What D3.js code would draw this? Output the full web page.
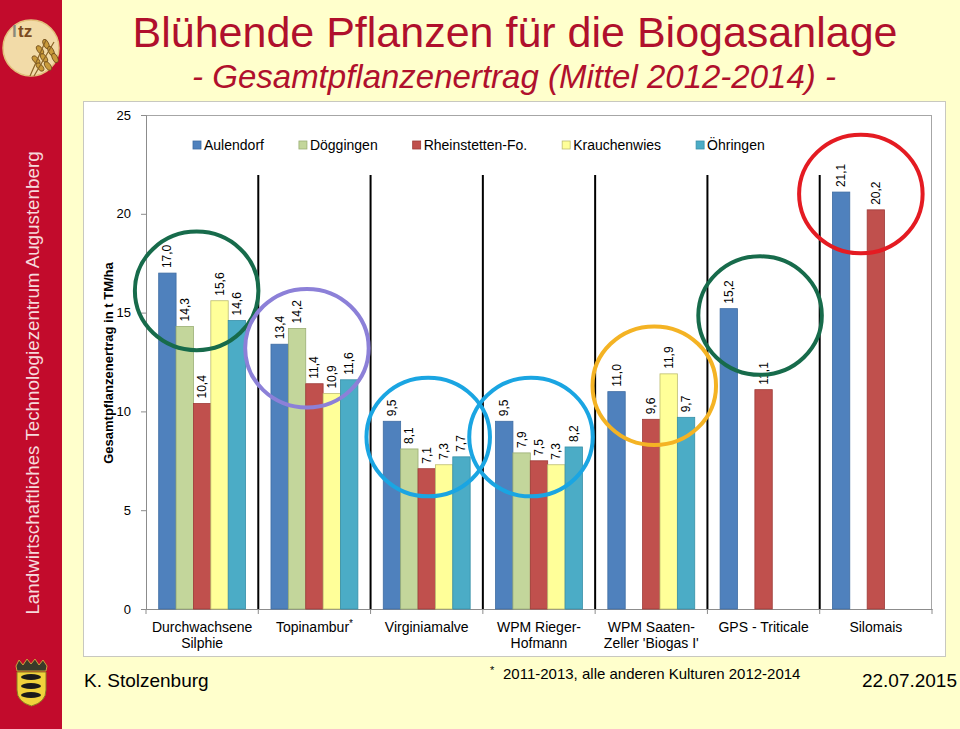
<!DOCTYPE html>
<html><head><meta charset="utf-8">
<script src="https://cdn.jsdelivr.net/npm/d3@7"></script>
<style>
html,body{margin:0;padding:0;background:#FFFFCC;}
svg{display:block;font-family:"Liberation Sans",Arial,sans-serif;}
</style>
</head><body>
<svg id="c" width="960" height="729"></svg>
<script>
// ---------- DATA ----------
const categories = ["Durchwachsene Silphie","Topinambur*","Virginiamalve","WPM Rieger-Hofmann","WPM Saaten-Zeller 'Biogas I'","GPS - Triticale","Silomais"];
const categoryLines = [["Durchwachsene","Silphie"],["Topinambur"],["Virginiamalve"],["WPM Rieger-","Hofmann"],["WPM Saaten-","Zeller 'Biogas I'"],["GPS - Triticale"],["Silomais"]];
const seriesNames = ["Aulendorf","Döggingen","Rheinstetten-Fo.","Krauchenwies","Öhringen"];
const aulendorf    = [17.0, 13.4, 9.5, 9.5, 11.0, 15.2, 21.1];
const doeggingen   = [14.3, 14.2, 8.1, 7.9, null, null, null];
const rheinstetten = [10.4, 11.4, 7.1, 7.5, 9.6, 11.1, 20.2];
const krauchenwies = [15.6, 10.9, 7.3, 7.3, 11.9, null, null];
const oehringen    = [14.6, 11.6, 7.7, 8.2, 9.7, null, null];
const yTicks = [0, 5, 10, 15, 20, 25];
// highlight rings: category index and centre value
const highlightCats = [0, 1, 2, 3, 4, 5, 6];
const highlightValues = [16.1, 13.2, 8.7, 8.7, 11.3, 14.85, 21.0];

// ---------- STYLE / LAYOUT ----------
const seriesColors = ["#4F81BD","#C3D69B","#C0504D","#FFFF99","#4BACC6"];
const seriesStroke = ["#3F6DA3","#9BAE75","#9E3B38","#BDBD70","#3790A8"];
const ringColors = ["#176B4B","#8C80D8","#1AA5E2","#1AA5E2","#F4B324","#176B4B","#E41B22"];
const ringDx = [-5.5, -7.5, 1.5, -8, 3, -3.5, -15];
const red = "#C20B2C", titleRed = "#B0102C";

const seriesValues = [aulendorf, doeggingen, rheinstetten, krauchenwies, oehringen];
const svg = d3.select("#c");

// background
svg.append("rect").attr("width",960).attr("height",729).attr("fill","#FFFFCC");
svg.append("rect").attr("width",62).attr("height",729).attr("fill",red);

// sidebar text
svg.append("text").attr("transform","translate(32,383) rotate(-90)")
  .attr("text-anchor","middle").attr("dominant-baseline","central")
  .attr("font-size",18.8).attr("fill","#F6DADC")
  .text("Landwirtschaftliches Technologiezentrum Augustenberg");

// logo (top-left)
const logo = svg.append("g");
logo.append("circle").attr("cx",31).attr("cy",48).attr("r",28).attr("fill","#F2DBA8").attr("stroke","#E2C07C").attr("stroke-width",1.5);
logo.append("text").attr("x",12).attr("y",37).attr("font-size",17).attr("font-weight","bold").attr("fill","#8A8A7A").text("l");
logo.append("text").attr("x",18).attr("y",37).attr("font-size",17).attr("font-weight","bold").attr("fill","#7A4A20").text("tz");
[[40,50,-35],[44,58,-35],[48,66,-35],[46,44,-25],[51,51,-25],[55,58,-25],[36,60,-40],[40,67,-40]].forEach(d=>{
  logo.append("ellipse").attr("cx",d[0]).attr("cy",d[1]).attr("rx",2.6).attr("ry",5)
    .attr("transform",`rotate(${d[2]},${d[0]},${d[1]})`).attr("fill","#C89A3A").attr("stroke","#6E4A18").attr("stroke-width",0.8);
});
logo.append("path").attr("d","M30,76 L46,40 M34,76 L54,42").attr("stroke","#8A6428").attr("stroke-width",1.2).attr("fill","none");

// crest (bottom-left)
const crest = svg.append("g");
crest.append("path").attr("d","M16,666 L19,660 L23,665 L27,659 L31,664 L35,659 L39,665 L43,660 L47,666 L46,671 L17,671 Z").attr("fill","#3A3A2A").attr("stroke","#C9A33A").attr("stroke-width",1);
crest.append("path").attr("d","M17,672 L46,672 L46,690 Q46,702 31.5,706 Q17,702 17,690 Z").attr("fill","#F0D23C").attr("stroke","#8A7A20").attr("stroke-width",1);
[[31,677],[31,686],[31,695]].forEach(d=>{
  crest.append("ellipse").attr("cx",d[0]).attr("cy",d[1]).attr("rx",10).attr("ry",3).attr("fill","#1A1A1A");
});

// titles
svg.append("text").attr("x",515).attr("y",47).attr("text-anchor","middle").attr("font-size",43).attr("fill",titleRed)
  .text("Blühende Pflanzen für die Biogasanlage");
svg.append("text").attr("x",514).attr("y",88).attr("text-anchor","middle").attr("font-size",33).attr("font-style","italic").attr("fill",titleRed)
  .text("- Gesamtpflanzenertrag (Mittel 2012-2014) -");

// chart frame
svg.append("rect").attr("x",83.5).attr("y",101.5).attr("width",862).attr("height",555).attr("fill","#FFFFFF").attr("stroke","#C8C8C0").attr("stroke-width",1);

// scales
const plotL = 146, plotR = 932, plotT = 115, plotB = 609;
const x0 = d3.scaleBand().domain(categories).range([plotL, plotR]).padding(0);
const x1 = d3.scaleBand().domain(seriesNames).range([0, x0.bandwidth()]).paddingInner(0).paddingOuter(0.73);
const y = d3.scaleLinear().domain([0, 25]).range([plotB, plotT]);

// plot area border
svg.append("rect").attr("x",plotL+0.5).attr("y",plotT+0.5).attr("width",plotR-plotL-1).attr("height",plotB-plotT)
  .attr("fill","none").attr("stroke","#A6A6A6").attr("stroke-width",1);

// y axis
const yAxis = svg.append("g").attr("transform",`translate(${plotL},0)`)
  .call(d3.axisLeft(y).tickValues(yTicks).tickSize(5).tickPadding(10).tickFormat(d3.format("d")));
yAxis.select(".domain").attr("stroke","#8C8C8C");
yAxis.selectAll(".tick line").attr("stroke","#8C8C8C");
yAxis.selectAll(".tick text").attr("font-size",13).attr("font-family","Liberation Sans, Arial, sans-serif").attr("fill","#000");

// x axis
const xAxis = svg.append("g").attr("transform",`translate(0,${plotB})`)
  .call(d3.axisBottom(x0).tickSize(0).tickFormat(""));
xAxis.select(".domain").attr("stroke","#8C8C8C");
const boundaries = categories.map(c => x0(c)).concat([plotR]);
svg.append("g").selectAll("line").data(boundaries).join("line")
  .attr("x1",d=>d).attr("x2",d=>d).attr("y1",plotB).attr("y2",plotB+5).attr("stroke","#8C8C8C");

// category labels
const catG = svg.append("g").attr("font-size",14).attr("fill","#000").attr("text-anchor","middle");
categoryLines.forEach((lines,i) => {
  const cx = x0(categories[i]) + x0.bandwidth()/2;
  const t = catG.append("text").attr("x",cx).attr("y",632);
  lines.forEach((ln,j) => {
    t.append("tspan").attr("x",cx).attr("y",632 + j*16).text(ln);
  });
  if (categories[i].endsWith("*")) {
    t.select("tspan").append("tspan").attr("font-size",10).attr("dy",-5).text("*");
  }
});

// separators
svg.append("g").selectAll("line").data(categories.slice(1)).join("line")
  .attr("x1",d=>x0(d)).attr("x2",d=>x0(d)).attr("y1",175).attr("y2",plotB)
  .attr("stroke","#000").attr("stroke-width",2);

// y-axis title
svg.append("text").attr("transform","translate(108,363) rotate(-90)").attr("text-anchor","middle")
  .attr("dominant-baseline","central").attr("font-size",13).attr("font-weight","bold").attr("fill","#000")
  .text("Gesamtpflanzenertrag in t TM/ha");

// bars
const barData = [];
categories.forEach((c,ci) => seriesNames.forEach((s,si) => {
  const v = seriesValues[si][ci];
  if (v !== null) barData.push({c, s, si, v});
}));
svg.append("g").selectAll("rect").data(barData).join("rect")
  .attr("x", d => x0(d.c) + x1(d.s))
  .attr("y", d => y(d.v))
  .attr("width", x1.bandwidth())
  .attr("height", d => y(0) - y(d.v))
  .attr("fill", d => seriesColors[d.si])
  .attr("stroke", d => seriesStroke[d.si]).attr("stroke-width",0.8);

// value labels
const fmt = v => d3.format(".1f")(v).replace(".", ",");
svg.append("g").selectAll("text").data(barData).join("text")
  .attr("transform", d => `translate(${x0(d.c) + x1(d.s) + x1.bandwidth()/2},${y(d.v) - 5}) rotate(-90)`)
  .attr("dominant-baseline","central").attr("font-size",12).attr("fill","#000")
  .text(d => fmt(d.v));

// legend
const leg = svg.append("g");
let lx = 193;
seriesNames.forEach((s,i) => {
  leg.append("rect").attr("x",lx).attr("y",141).attr("width",8).attr("height",8)
    .attr("fill",seriesColors[i]).attr("stroke",seriesStroke[i]).attr("stroke-width",0.8);
  const t = leg.append("text").attr("x",lx+11).attr("y",150).attr("font-size",14).attr("fill","#000").text(s);
  lx += 11 + t.node().getComputedTextLength() + 35;
});

// highlight rings
svg.append("g").selectAll("ellipse").data(highlightCats).join("ellipse")
  .attr("cx",(c,i) => x0(categories[c]) + x0.bandwidth()/2 + ringDx[i])
  .attr("cy",(c,i) => y(highlightValues[i]))
  .attr("rx", x0.bandwidth()*0.55)
  .attr("ry", y(0) - y(3.0))
  .attr("fill","none").attr("stroke",(c,i)=>ringColors[i]).attr("stroke-width",4);

// footer
svg.append("text").attr("x",84).attr("y",687).attr("font-size",19).attr("fill","#000").text("K. Stolzenburg");
const fn = svg.append("text").attr("x",490).attr("y",679).attr("font-size",15).attr("fill","#000");
fn.append("tspan").attr("font-size",11).attr("dy",-5).text("*");
fn.append("tspan").attr("x",503).attr("dy",5).text("2011-2013, alle anderen Kulturen 2012-2014");
svg.append("text").attr("x",957).attr("y",687).attr("text-anchor","end").attr("font-size",19).attr("fill","#000").text("22.07.2015");
</script>
</body></html>
